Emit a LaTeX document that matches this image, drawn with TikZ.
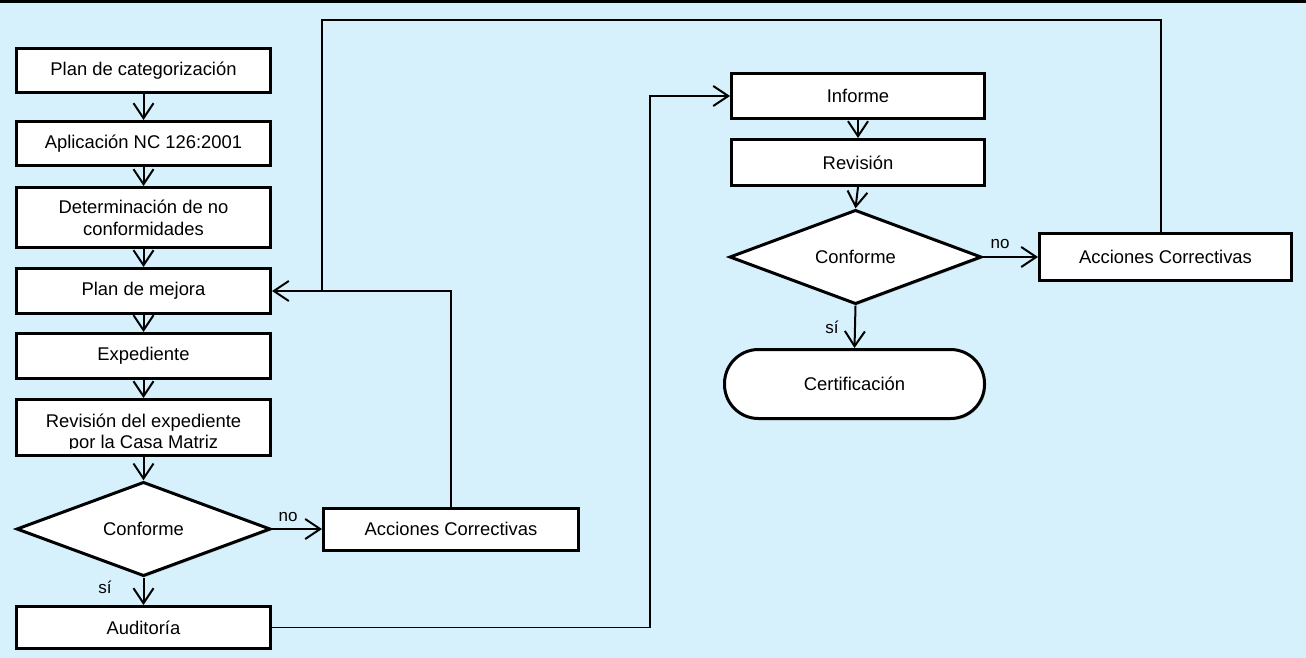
\documentclass[tikz,border=0pt]{standalone}
\usepackage{fontspec}
\setmainfont{Liberation Sans}
\usetikzlibrary{arrows.meta,shapes.geometric,shadows}
\definecolor{bgblue}{RGB}{214,240,252}
\tikzset{
  x=1pt,y=-1pt,
  every node/.style={font=\fontsize{18.4}{22}\selectfont},
  shad/.style={drop shadow={shadow xshift=1.5pt,shadow yshift=-1.5pt,opacity=0.35,fill=black!60}},
  boxnode/.style={draw=black,line width=3pt,fill=white,rectangle,minimum width=254pt,inner sep=0pt,align=center,shad},
  decnode/.style={draw=black,line width=3pt,fill=white,diamond,minimum width=254pt,minimum height=94pt,inner sep=0pt,shad},
  termnode/.style={draw=black,line width=3pt,fill=white,rectangle,rounded corners=34pt,minimum width=260pt,minimum height=69pt,inner sep=0pt,shad},
  flow/.style={line width=2pt,-{Straight Barb[length=15pt,width=20pt,line width=2pt]}},
  link/.style={line width=1.4pt},
  lbl/.style={font=\fontsize{17}{19}\selectfont,inner sep=0pt}
}
\begin{document}
\begin{tikzpicture}
\useasboundingbox (0,0) rectangle (1306,658);
\fill[bgblue] (0,0) rectangle (1306,658);
\fill[black] (0,0) rectangle (1306,3);

% left column
\node[boxnode,minimum height=44pt] (cat) at (143.5,70.5) {Plan de categorización};
\node[boxnode,minimum height=44pt] (apl) at (143.5,143.5) {Aplicación NC 126:2001};
\node[boxnode,minimum height=60pt] (det) at (143.5,217.5) {Determinación de no\\conformidades};
\node[boxnode,minimum height=45pt] (mej) at (143.5,291) {Plan de mejora};
\node[boxnode,minimum height=45pt] (exp) at (143.5,356) {Expediente};
\node[boxnode,minimum height=56pt] (rev) at (143.5,427.5) {};
\begin{scope}
  \clip (18,400) rectangle (270,448.5);
  \node[align=center,inner sep=0pt,font=\fontsize{18.4}{20.5}\selectfont] (revtxt) at (143.5,433) {Revisión del expediente\\por la Casa Matriz};
\end{scope}
\node[decnode] (d1) at (143.5,529) {Conforme};
\node[boxnode,minimum height=42pt] (aud) at (143.5,627.5) {Auditoría};
\node[boxnode,minimum height=42pt,minimum width=255pt] (accL) at (451,529) {Acciones Correctivas};

% right column
\node[boxnode,minimum height=45pt,minimum width=253pt] (inf) at (858,96) {Informe};
\node[boxnode,minimum height=46pt,minimum width=253pt] (rvs) at (858,162.5) {Revisión};
\node[decnode,minimum width=252pt] (d2) at (855.5,257) {Conforme};
\node[termnode] (cert) at (854.5,384) {Certificación};
\node[boxnode,minimum height=47pt,minimum width=252pt] (accR) at (1165.5,257) {Acciones Correctivas};

% vertical flow
\draw[flow] (cat) -- (apl);
\draw[flow] (apl) -- (det);
\draw[flow] (det) -- (mej);
\draw[flow] (mej) -- (exp);
\draw[flow] (exp) -- (rev);
\draw[flow] (rev.south) -- (d1.north);
\draw[flow] (d1.south) -- (aud.north);
\node[lbl] (si1) at (105,587) {sí};
\draw[flow] (d1.east) -- (d1.east -| accL.west);
\node[lbl] (no1) at (288,517) {no};

\draw[flow] (inf) -- (rvs);
\draw[flow] (rvs.south) -- (d2.north);
\draw[flow] (d2.south) -- (cert.north);
\node[lbl] (si2) at (832,327) {sí};
\draw[flow] (d2.east) -- (d2.east -| accR.west);
\node[lbl] (no2) at (1000,244) {no};

% feedback lines
\coordinate (tl) at (322,20);
\coordinate (tr) at (1161,20);
\coordinate (rt) at (650,96);
\draw[flow,line width=1.4pt] (accL.north) |- (mej.east);
\draw[link] ([xshift=-4.5pt]accR.north) -- (tr) -- (tl) -- (tl |- mej.east);
\draw[flow,line width=1.4pt] (aud.east) -| (rt) -- (inf.west);
\end{tikzpicture}
\end{document}
